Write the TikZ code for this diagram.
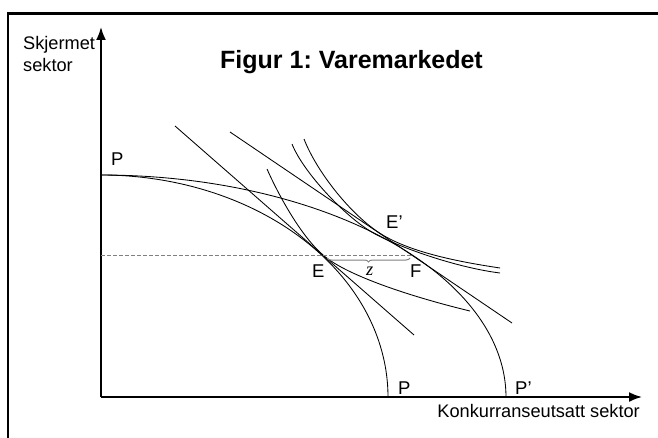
\documentclass[tikz,border=0pt]{standalone}
\usepackage{fontspec}
\setmainfont{Liberation Sans}
\newfontfamily\serifz{Liberation Serif}
\usepackage{tikz}
\usetikzlibrary{arrows.meta, decorations.pathreplacing}
\frenchspacing

\begin{document}
\begin{tikzpicture}[x=1pt, y=-1pt,
  axis/.style={line width=1.8pt, -{Latex[length=13pt,width=10pt]}},
  curve/.style={line width=0.85pt},
  axislabel/.style={font=\fontsize{18.2}{21}\selectfont, inner sep=0pt, anchor=base west},
  pointlabel/.style={font=\fontsize{18.5}{20}\selectfont, inner sep=0pt, anchor=base west},
  guide/.style={gray, line width=0.7pt, dash pattern=on 4pt off 2pt},
]
\useasboundingbox (0,0) rectangle (658,438);

% frame
\draw[line width=2.7pt] (8,438) -- (8,13.7) -- (658,13.7);

% axes
\coordinate (O) at (101,397);
\coordinate (ytip) at (101,27);
\coordinate (xtip) at (642,397);
\draw[axis] (O) -- (ytip);
\draw[axis] (O) -- (xtip);

\node[axislabel] (skjermet) at (23,50) {Skjermet};
\node[axislabel] (sektor) at (23,71.5) {sektor};
\node[axislabel, anchor=base east] (xlab) at (640,417) {Konkurranseutsatt sektor};
\node[font=\bfseries\fontsize{25}{28}\selectfont, inner sep=0pt, anchor=base west] (title) at (220,69) {Figur 1: Varemarkedet};

% key points
\coordinate (E) at (323,255);
\coordinate (F) at (413,255);
\coordinate (E2) at (378,232);

% production possibility curves PP and PP'
\draw[curve] plot[domain=0:90, samples=90] ({101+287*cos(\x)}, {397-222*sin(\x)});
\draw[curve] plot[domain=0:90, samples=90] ({101+405*cos(\x)}, {397-222*sin(\x)});

% price lines
\coordinate (a1) at (175,126);
\coordinate (a2) at (414,335);
\coordinate (b1) at (230,132);
\coordinate (b2) at (512,323);
\draw[curve] (a1) -- (a2);
\draw[curve] (b1) -- (b2);

% indifference curves
\draw[curve] (267,169) .. controls (279,196) and (301,236) .. (E)
  .. controls (348,277) and (420,299) .. (470,311);
\draw[curve] (292,144) .. controls (303,172) and (347,219.6) .. (377,235)
  .. controls (407,250.4) and (460,268) .. (500,273);
\draw[curve] (304,139) .. controls (316,170) and (348,211.7) .. (E2)
  .. controls (408,252.3) and (460,262) .. (500,268);

% dashed level line and brace
\draw[guide] (101,255) -- (F);
\draw[gray, line width=1pt, decorate, decoration={brace, mirror, amplitude=4pt}]
  (327,258) -- (410,258);

\node[pointlabel] (Ptop) at (111,166) {P};
\node[pointlabel] (Elab) at (312,277) {E};
\node[pointlabel] (Flab) at (410,277) {F};
\node[pointlabel] (E2lab) at (386,229) {E'};
\node[pointlabel] (Pbot) at (398,394) {P};
\node[pointlabel] (Pprime) at (515,394) {P'};
\node[pointlabel, font=\serifz\itshape\fontsize{18.5}{20}\selectfont] (zlab) at (366,276) {z};

\end{tikzpicture}
\end{document}
